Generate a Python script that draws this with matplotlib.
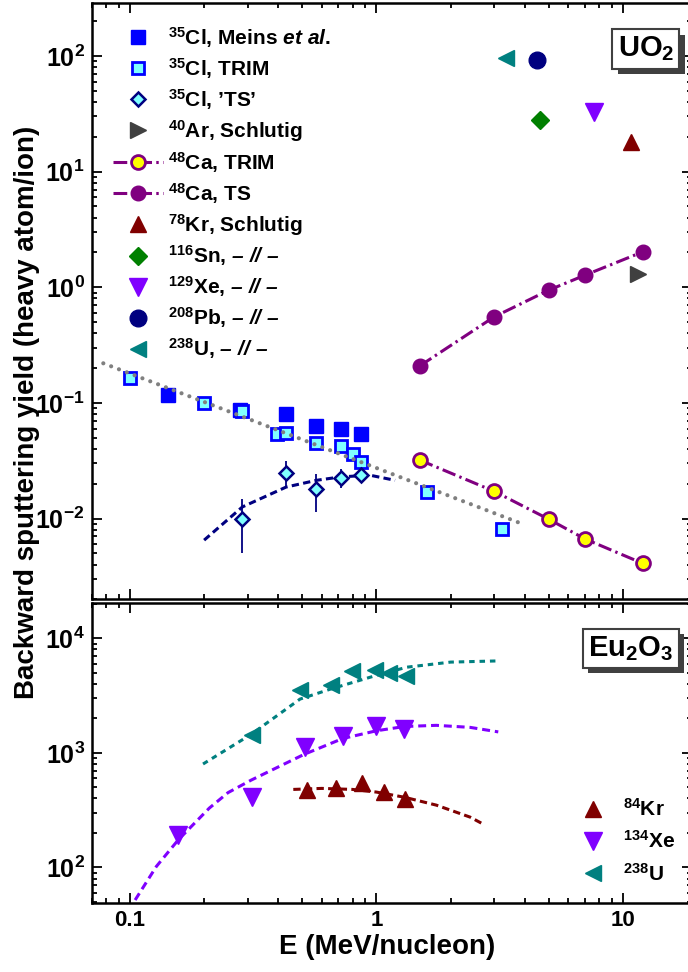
import numpy as np
import matplotlib
matplotlib.use('Agg')
import matplotlib.pyplot as plt
from matplotlib import ticker
import matplotlib.patheffects as pe

plt.rcParams['font.family'] = ['Liberation Sans', 'DejaVu Sans']
plt.rcParams['font.weight'] = 'bold'
plt.rcParams['mathtext.fontset'] = 'custom'
plt.rcParams['mathtext.rm'] = 'Liberation Sans:bold'
plt.rcParams['mathtext.bf'] = 'Liberation Sans:bold'
plt.rcParams['mathtext.it'] = 'Liberation Sans:italic:bold'
plt.rcParams['mathtext.sf'] = 'Liberation Sans:italic'

# ---- UO2 panel data ----
cl_meins_E = [0.143, 0.279, 0.43, 0.571, 0.716, 0.865]
cl_meins_Y = [0.118, 0.0865, 0.080, 0.063, 0.059, 0.054]

cl_trim_E = [0.1, 0.2, 0.284, 0.396, 0.43, 0.571, 0.72, 0.80, 0.865, 1.6, 3.22]
cl_trim_Y = [0.164, 0.100, 0.085, 0.054, 0.055, 0.045, 0.042, 0.036, 0.0307, 0.0168, 0.0081]

cl_ts_E = [0.286, 0.43, 0.571, 0.716, 0.865]
cl_ts_Y = [0.0100, 0.0248, 0.0179, 0.0224, 0.0237]
cl_ts_lo = [0.0050, 0.0187, 0.0113, 0.0182, 0.0215]
cl_ts_hi = [0.0148, 0.0313, 0.0245, 0.0266, 0.0260]

cl_ts_fit_E = [0.2, 0.286, 0.43, 0.571, 0.716, 0.94, 1.19]
cl_ts_fit_Y = [0.0065, 0.0126, 0.0187, 0.0214, 0.0229, 0.0237, 0.0214]

trim_trend_E = [0.078, 3.95]
trim_trend_Y = [0.22, 0.0089]

ca_E = [1.5, 3.0, 5.0, 7.0, 12.0]
ca_trim_Y = [0.032, 0.0172, 0.00986, 0.00667, 0.0041]
ca_ts_Y = [0.209, 0.554, 0.944, 1.27, 2.02]

ar_E, ar_Y = [11.5], [1.29]
kr_E, kr_Y = [10.8], [18.0]
sn_E, sn_Y = [4.6], [27.7]
xe_E, xe_Y = [7.6], [33.0]
pb_E, pb_Y = [4.49], [93.0]
u_E, u_Y = [3.35], [96.0]

# ---- Eu2O3 panel data ----
eu_kr_E = [0.525, 0.685, 0.87, 1.07, 1.30]
eu_kr_Y = [473, 490, 541, 452, 395]
eu_xe_E = [0.157, 0.312, 0.513, 0.73, 1.0, 1.29]
eu_xe_Y = [194, 413, 1130, 1400, 1710, 1630]
eu_u_E = [0.312, 0.49, 0.652, 0.795, 0.986, 1.12, 1.32]
eu_u_Y = [1430, 3520, 3890, 5150, 5300, 5000, 4700]

eu_kr_fit_E = [0.46, 0.6, 0.8, 1.0, 1.3, 1.75, 2.4, 2.75]
eu_kr_fit_Y = [480, 490, 480, 455, 410, 350, 275, 235]
eu_xe_fit_E = [0.105, 0.128, 0.157, 0.21, 0.25, 0.31, 0.51, 0.73, 1.0, 1.3, 1.75, 2.4, 3.12]
eu_xe_fit_Y = [52, 102, 174, 330, 450, 578, 973, 1335, 1560, 1700, 1740, 1670, 1525]
eu_u_fit_E = [0.198, 0.31, 0.49, 0.65, 1.0, 1.33, 2.0, 3.12]
eu_u_fit_Y = [800, 1450, 2950, 3600, 4750, 5600, 6200, 6350]

fig = plt.figure(figsize=(6.88, 9.72), dpi=100)
ax1 = fig.add_axes([0.1333, 0.3834, 0.8725, 0.614])
ax2 = fig.add_axes([0.1333, 0.0710, 0.8725, 0.3083])

purple = '#800080'
navy = '#000080'

# top panel
ax1.plot(cl_meins_E, cl_meins_Y, 's', color='#0000ff', ms=10, zorder=3,
         label=r'$^{35}$Cl, Meins $\mathit{et\ al.}$')
ax1.plot(cl_trim_E, cl_trim_Y, 's', mfc='#80ffff', mec='#0000ff', mew=2, ms=8.5, zorder=4,
         label=r'$^{35}$Cl, TRIM')
ax1.plot(cl_ts_fit_E, cl_ts_fit_Y, '--', color=navy, lw=2.2, dashes=(2.4, 1.4), zorder=2)
yerr = [np.array(cl_ts_Y) - np.array(cl_ts_lo), np.array(cl_ts_hi) - np.array(cl_ts_Y)]
ax1.errorbar(cl_ts_E, cl_ts_Y, yerr=yerr, fmt='none', ecolor=navy, elinewidth=1.3, capsize=0, zorder=3)
ax1.plot(cl_ts_E, cl_ts_Y, 'D', mfc='#80ffff', mec=navy, mew=1.8, ms=7.5, zorder=4,
         label=r'$^{35}$Cl, ’TS’')
ax1.plot(ar_E, ar_Y, '>', color='#404040', ms=11, label=r'$^{40}$Ar, Schlutig')
ax1.plot(ca_E, ca_trim_Y, '-.', color=purple, lw=2.2, dashes=(4.5, 1.4, 0.8, 1.4),
         marker='o', mfc='#ffff00', mec=purple, mew=2, ms=10, label=r'$^{48}$Ca, TRIM')
ax1.plot(ca_E, ca_ts_Y, '-.', color=purple, lw=2.2, dashes=(4.5, 1.4, 0.8, 1.4),
         marker='o', ms=10.5, label=r'$^{48}$Ca, TS')
ax1.plot(kr_E, kr_Y, '^', color='#800000', ms=12, label=r'$^{78}$Kr, Schlutig')
ax1.plot(sn_E, sn_Y, 'D', color='#008000', ms=9.5, label=r'$^{116}$Sn, $\mathsf{–\ //\ –}$')
ax1.plot(xe_E, xe_Y, 'v', color='#8000ff', ms=12.5, label=r'$^{129}$Xe, $\mathsf{–\ //\ –}$')
ax1.plot(pb_E, pb_Y, 'o', color=navy, ms=12, label=r'$^{208}$Pb, $\mathsf{–\ //\ –}$')
ax1.plot(u_E, u_Y, '<', color='#008080', ms=11.5, label=r'$^{238}$U, $\mathsf{–\ //\ –}$')
ax1.plot(trim_trend_E, trim_trend_Y, color='#808080', lw=3, ls=(0, (0.01, 2.0)),
         dash_capstyle='round', zorder=5)

ax1.set_xlim(0.070, 19.05)
ax1.set_ylim(0.0020, 290)

# bottom panel
ax2.plot(eu_u_fit_E, eu_u_fit_Y, '--', color='#008080', lw=2.2, dashes=(1.8, 1.6))
ax2.plot(eu_xe_fit_E, eu_xe_fit_Y, '--', color='#8000ff', lw=2.2, dashes=(2.6, 1.6))
ax2.plot(eu_kr_fit_E, eu_kr_fit_Y, '--', color='#800000', lw=2.2, dashes=(2.4, 1.4))
ax2.plot(eu_kr_E, eu_kr_Y, '^', color='#800000', ms=12, ls='none', label=r'$^{84}$Kr')
ax2.plot(eu_xe_E, eu_xe_Y, 'v', color='#8000ff', ms=12.5, ls='none', label=r'$^{134}$Xe')
ax2.plot(eu_u_E, eu_u_Y, '<', color='#008080', ms=12, ls='none', label=r'$^{238}$U')

ax2.set_xlim(0.070, 19.05)
ax2.set_ylim(49, 20200)

for ax in (ax1, ax2):
    ax.set_xscale('log')
    ax.set_yscale('log')
    ax.tick_params(which='both', direction='in', top=True, right=True, width=1.3)
    ax.tick_params(which='major', length=7, pad=5)
    ax.tick_params(which='minor', length=3.8)
    ax.tick_params(axis='y', labelsize=18)
    ax.tick_params(axis='x', labelsize=16)
    for s in ax.spines.values():
        s.set_linewidth(1.8)
    ax.yaxis.set_major_formatter(ticker.FuncFormatter(
        lambda v, p: r'$\mathbf{10^{%d}}$' % int(round(np.log10(v)))))
    ax.yaxis.set_minor_formatter(ticker.NullFormatter())
    ax.yaxis.set_minor_locator(ticker.LogLocator(base=10, subs=np.arange(2, 10), numticks=30))
    ax.xaxis.set_major_formatter(ticker.FuncFormatter(lambda v, p: '%g' % v))
    ax.xaxis.set_minor_formatter(ticker.NullFormatter())
ax1.tick_params(labelbottom=False)

leg1 = ax1.legend(loc='upper left', bbox_to_anchor=(113 / 688, 1 - 25 / 972),
                  bbox_transform=fig.transFigure, frameon=False, fontsize=15,
                  handlelength=2.4, handletextpad=0.25, labelspacing=0.29,
                  borderpad=0, borderaxespad=0, numpoints=1)
leg2 = ax2.legend(loc='upper left', bbox_to_anchor=(583 / 688, 1 - 798 / 972),
                  bbox_transform=fig.transFigure, frameon=False, fontsize=15,
                  handlelength=1.0, handletextpad=0.9, labelspacing=0.5,
                  borderpad=0, borderaxespad=0, numpoints=1)

for ax, txt, pos in ((ax1, r'UO$_2$', (0.923, 0.922)), (ax2, r'Eu$_2$O$_3$', (0.898, 0.850))):
    t = ax.text(pos[0], pos[1], txt, transform=ax.transAxes, ha='center', va='center',
                fontsize=21, fontweight='bold',
                bbox=dict(boxstyle='square,pad=0.18', fc='white', ec='#404040', lw=1.5))
    t.get_bbox_patch().set_path_effects([
        pe.SimplePatchShadow(offset=(4, -4), shadow_rgbFace='#404040', alpha=1.0),
        pe.Normal()])

fig.text(27 / 688, 1 - 412 / 972, 'Backward sputtering yield (heavy atom/ion)',
         rotation=90, fontsize=20, fontweight='bold', ha='center', va='center')
fig.text(387 / 688, 1 - 947 / 972, 'E (MeV/nucleon)', fontsize=20, fontweight='bold',
         ha='center', va='center')

fig.savefig('out.png', dpi=100)
